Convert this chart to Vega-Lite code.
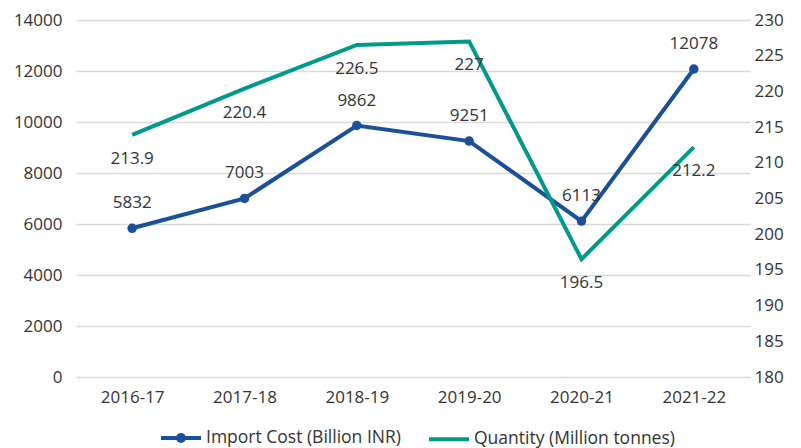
{
  "$schema": "https://vega.github.io/schema/vega-lite/v6.json",
  "width": 674,
  "height": 357,
  "autosize": {"type": "none"},
  "padding": {"left": 76, "top": 20, "right": 51, "bottom": 71},
  "background": "white",
  "config": {
    "view": {"stroke": null},
    "font": "Open Sans",
    "axis": {"labelFont": "Open Sans", "labelFontSize": 17, "labelColor": "#333333", "domain": false, "ticks": false, "title": null},
    "legend": {"labelFont": "Open Sans", "labelFontSize": 17.5, "labelColor": "#333333", "labelLimit": 0}
  },
  "data": {
    "values": [
      {"year": "2016-17", "series": "Import Cost (Billion INR)", "value": 5832},
      {"year": "2017-18", "series": "Import Cost (Billion INR)", "value": 7003},
      {"year": "2018-19", "series": "Import Cost (Billion INR)", "value": 9862},
      {"year": "2019-20", "series": "Import Cost (Billion INR)", "value": 9251},
      {"year": "2020-21", "series": "Import Cost (Billion INR)", "value": 6113},
      {"year": "2021-22", "series": "Import Cost (Billion INR)", "value": 12078},
      {"year": "2016-17", "series": "Quantity (Million tonnes)", "value": 213.9},
      {"year": "2017-18", "series": "Quantity (Million tonnes)", "value": 220.4},
      {"year": "2018-19", "series": "Quantity (Million tonnes)", "value": 226.5},
      {"year": "2019-20", "series": "Quantity (Million tonnes)", "value": 227},
      {"year": "2020-21", "series": "Quantity (Million tonnes)", "value": 196.5},
      {"year": "2021-22", "series": "Quantity (Million tonnes)", "value": 212.2}
    ]
  },
  "encoding": {
    "x": {"field": "year", "type": "nominal", "sort": null, "scale": {"padding": 0.5},
      "axis": {"labelAngle": 0, "labelPadding": 12, "grid": false}}
  },
  "layer": [
    {
      "transform": [{"filter": "datum.series === 'Import Cost (Billion INR)'"}],
      "encoding": {
        "y": {"field": "value", "type": "quantitative",
          "scale": {"domain": [0, 14000]},
          "axis": {"orient": "left", "values": [0, 2000, 4000, 6000, 8000, 10000, 12000, 14000], "format": "d", "labelPadding": 14, "grid": true, "gridColor": "#d9d9d9", "gridWidth": 1.5}}
      },
      "layer": [
        {"mark": {"type": "line", "strokeWidth": 4}, "encoding": {
          "color": {"field": "series", "type": "nominal",
            "scale": {"domain": ["Import Cost (Billion INR)", "Quantity (Million tonnes)"], "range": ["#1a4f9c", "#00998a"]},
            "legend": {"orient": "none", "legendX": 83, "legendY": 396, "direction": "horizontal", "title": null, "symbolType": "stroke", "symbolStrokeWidth": 4, "symbolSize": 1600, "columnPadding": 20, "labelOffset": 3,
              "encode": {"symbols": {"update": {
                "shape": {"signal": "datum.value === 'Import Cost (Billion INR)' ? 'M-1,0H1M0.15,0A0.15,0.15 0 1,1 -0.15,0A0.15,0.15 0 1,1 0.15,0Z' : 'stroke'"},
                "fill": {"signal": "datum.value === 'Import Cost (Billion INR)' ? '#1a4f9c' : 'transparent'"}
              }}}}}
        }},
        {"mark": {"type": "point", "filled": true, "size": 90, "opacity": 1, "color": "#1a4f9c"}},
        {"mark": {"type": "text", "dy": -25, "fontSize": 17, "color": "#333333"}, "encoding": {"text": {"field": "value", "type": "quantitative", "format": "d"}}}
      ]
    },
    {
      "transform": [{"filter": "datum.series === 'Quantity (Million tonnes)'"}],
      "encoding": {
        "y": {"field": "value", "type": "quantitative",
          "scale": {"domain": [180, 230]},
          "axis": {"orient": "right", "values": [180, 185, 190, 195, 200, 205, 210, 215, 220, 225, 230], "labelPadding": 4, "grid": false}}
      },
      "layer": [
        {"mark": {"type": "line", "strokeWidth": 4}, "encoding": {
          "color": {"field": "series", "type": "nominal", "legend": null}
        }},
        {"mark": {"type": "text", "dy": 24, "fontSize": 17, "color": "#333333"}, "encoding": {"text": {"field": "value", "type": "quantitative"}}}
      ]
    }
  ],
  "resolve": {"scale": {"y": "independent"}}
}
